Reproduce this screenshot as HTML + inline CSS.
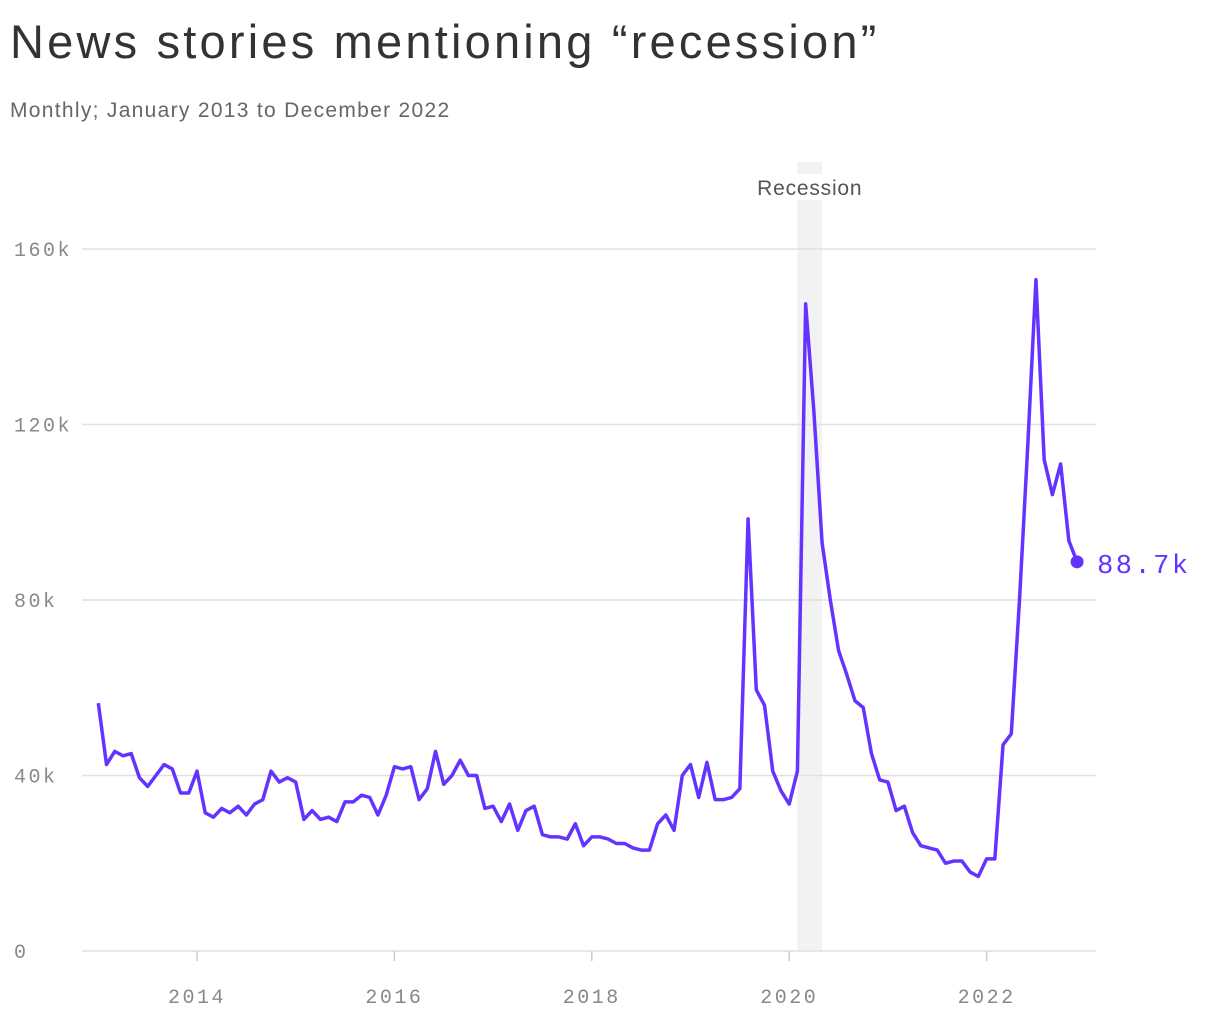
<!DOCTYPE html>
<html><head><meta charset="utf-8"><style>
body{margin:0;background:#fff;width:1220px;height:1020px;overflow:hidden;font-family:"Liberation Sans",sans-serif}
h1{position:absolute;left:10px;top:14px;margin:0;font-size:47px;font-weight:400;color:#333;letter-spacing:3.2px;white-space:nowrap}
.sub{position:absolute;left:10px;top:99px;font-size:21px;color:#666;letter-spacing:1.3px;white-space:nowrap}
svg{position:absolute;left:0;top:0}
</style></head><body>
<h1>News stories mentioning “recession”</h1>
<div class="sub">Monthly; January 2013 to December 2022</div>
<svg id="c" width="1220" height="1020"></svg>
<script>
const yTicks=[0,40,80,120,160];
const xTickYears=[2014,2016,2018,2020,2022];
const values=[56.5,42.5,45.5,44.5,45,39.5,37.5,40,42.5,41.5,36,36,
41,31.5,30.5,32.5,31.5,33,31,33.5,34.5,41,38.5,39.5,
38.5,30,32,30,30.5,29.5,34,34,35.5,35,31,35.5,
42,41.5,42,34.5,37,45.5,38,40,43.5,40,40,32.5,
33,29.5,33.5,27.5,32,33,26.5,26,26,25.5,29,24,
26,26,25.5,24.5,24.5,23.5,23,23,29,31,27.5,40,
42.5,35,43,34.5,34.5,35,37,98.5,59.5,56,41,36.5,
33.5,41,147.5,123,93,80,68.5,63,57,55.5,45,39,
38.5,32,33,27,24,23.5,23,20,20.5,20.5,18,17,
21,21,47,49.5,80,115,153,112,104,111,93.5,88.7];
const recession=[2020+1/12,2020+4/12];
const lastLabel="88.7k";
const ns="http://www.w3.org/2000/svg",svg=document.getElementById('c');
const X=t=>197+(t-2014)*98.7, Y=v=>951-v*702/160;
function mk(tag,a){const e=document.createElementNS(ns,tag);for(const k in a)e.setAttribute(k,a[k]);svg.appendChild(e);return e;}
let r=mk('rect',{x:X(recession[0]),y:162,width:X(recession[1])-X(recession[0]),height:789,fill:'#f2f2f2'});


let rl=mk('rect',{x:748,y:174,width:124,height:26,fill:'#fff'});


let rt=mk('text',{x:(X(recession[0])+X(recession[1]))/2,y:195,'text-anchor':'middle','font-size':21,fill:'#555','font-family':'Liberation Sans','letter-spacing':0.8});
rt.textContent='Recession';


yTicks.forEach(v=>{
 let l=mk('line',{x1:82,x2:1096,y1:Y(v),y2:Y(v),stroke:'#e0e0e0','stroke-width':1.5});
 
 
 let t=mk('text',{x:14,y:Y(v)+7,'font-size':20,fill:'#888','font-family':'Liberation Mono','letter-spacing':2.5});
 t.textContent=v===0?'0':v+'k';
 
 
});
xTickYears.forEach(y=>{
 let l=mk('line',{x1:X(y),x2:X(y),y1:951,y2:961,stroke:'#ccc','stroke-width':1.5});
 
 
 let t=mk('text',{x:X(y),y:1003,'text-anchor':'middle','font-size':20,fill:'#888','font-family':'Liberation Mono','letter-spacing':2.5});
 t.textContent=y;
 
 
});
const pts=values.map((v,i)=>[X(2013+i/12),Y(v)]);
let p=mk('polyline',{points:pts.map(q=>q.join(',')).join(' '),fill:'none',stroke:'#6533ff','stroke-width':3.5,'stroke-linejoin':'round'});


const last=pts[pts.length-1];
let d=mk('circle',{cx:last[0],cy:last[1],r:6.5,fill:'#6533ff'});


let lt=mk('text',{x:last[0]+20,y:last[1]+11,'font-size':27,fill:'#6533ff','font-family':'Liberation Mono','letter-spacing':2.5});
lt.textContent=lastLabel;


</script>
</body></html>
